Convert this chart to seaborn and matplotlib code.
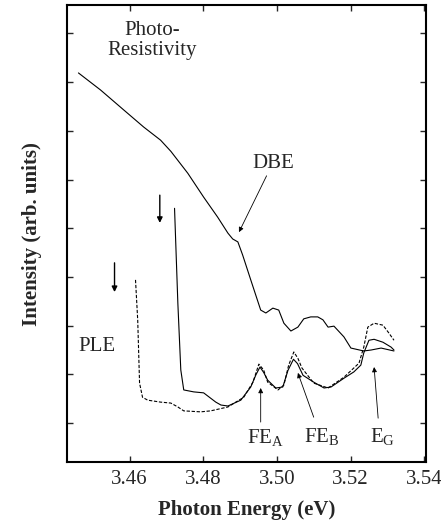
import numpy as np
import pandas as pd
import seaborn as sb
import matplotlib
matplotlib.use('Agg')
import matplotlib.pyplot as plt

# photo-resistivity trace (solid, top)
pr_x = [3.4461, 3.4521, 3.4584, 3.4638, 3.4684, 3.4712, 3.4758, 3.4801, 3.4839, 3.4867,
        3.4880, 3.4894, 3.4907, 3.4929, 3.4956, 3.4970, 3.4989, 3.5005, 3.5019, 3.5038,
        3.5057, 3.5073, 3.5092, 3.5111, 3.5125, 3.5139, 3.5155, 3.5182, 3.5201, 3.5236,
        3.5256, 3.5283, 3.5318]
pr_y = [7.19, 6.84, 6.43, 6.08, 5.81, 5.58, 5.13, 4.64, 4.23, 3.90,
        3.78, 3.72, 3.45, 2.94, 2.32, 2.26, 2.36, 2.32, 2.05, 1.89,
        1.97, 2.14, 2.18, 2.18, 2.12, 1.97, 1.99, 1.77, 1.54, 1.48,
        1.50, 1.54, 1.48]

# PLE, solid trace
ple1_x = [3.4722, 3.4731, 3.4739, 3.4747, 3.4774, 3.4801, 3.4834, 3.4848, 3.4867, 3.4902,
          3.4929, 3.4943, 3.4954, 3.4964, 3.4975, 3.4997, 3.5016, 3.5030, 3.5045, 3.5056,
          3.5071, 3.5100, 3.5128, 3.5147, 3.5182, 3.5209, 3.5228, 3.5236, 3.5250, 3.5264,
          3.5288, 3.5310, 3.5318]
ple1_y = [4.41, 2.46, 1.09, 0.68, 0.64, 0.62, 0.43, 0.37, 0.35, 0.47,
          0.74, 0.99, 1.15, 1.04, 0.88, 0.72, 0.74, 1.08, 1.31, 1.22,
          0.98, 0.84, 0.72, 0.74, 0.92, 1.05, 1.19, 1.44, 1.70, 1.72,
          1.66, 1.56, 1.50]

# PLE, dashed trace
ple2_x = [3.4616, 3.4622, 3.4627, 3.4635, 3.4649, 3.4684, 3.4712, 3.4731, 3.4747, 3.4793,
          3.4820, 3.4867, 3.4910, 3.4935, 3.4951, 3.4964, 3.4975, 3.5003, 3.5019, 3.5032,
          3.5046, 3.5057, 3.5068, 3.5100, 3.5139, 3.5182, 3.5223, 3.5236, 3.5247, 3.5264,
          3.5288, 3.5304, 3.5318]
ple2_y = [2.94, 2.11, 0.82, 0.53, 0.47, 0.43, 0.41, 0.33, 0.25, 0.23,
          0.25, 0.33, 0.53, 0.84, 1.21, 1.09, 0.84, 0.68, 0.78, 1.19,
          1.46, 1.33, 1.13, 0.82, 0.72, 0.94, 1.23, 1.56, 1.97, 2.05,
          2.01, 1.85, 1.70]

x_ticks = [3.46, 3.48, 3.50, 3.52, 3.54]
x_ticklabels = ['3.46', '3.48', '3.50', '3.52', '3.54']

sb.set_style('ticks')
plt.rcParams['font.family'] = ['Liberation Serif', 'DejaVu Serif']
plt.rcParams['mathtext.fontset'] = 'custom'
plt.rcParams['mathtext.rm'] = 'Liberation Serif'

fig = plt.figure(figsize=(4.41, 5.25), dpi=100)
ax = fig.add_axes([0.152, 0.12, 0.814, 0.870])

df_pr = pd.DataFrame({'x': pr_x, 'y': pr_y})
df_p1 = pd.DataFrame({'x': ple1_x, 'y': ple1_y})
df_p2 = pd.DataFrame({'x': ple2_x, 'y': ple2_y})

sb.lineplot(data=df_pr, x='x', y='y', sort=False, estimator=None, ax=ax,
            color='k', lw=0.8)
sb.lineplot(data=df_p1, x='x', y='y', sort=False, estimator=None, ax=ax,
            color='k', lw=0.8)
sb.lineplot(data=df_p2, x='x', y='y', sort=False, estimator=None, ax=ax,
            color='k', lw=0.8, linestyle=(0, (3, 1.5)))

ax.set_xlim(3.443, 3.5405)
ax.set_ylim(-0.8, 8.58)
ax.set_xticks(x_ticks)
ax.set_xticklabels(x_ticklabels)
ax.set_yticks(range(0, 9))
ax.set_yticklabels([])
ax.tick_params(direction='in', length=4, width=1, top=True, right=True,
               labelsize=15, pad=6)
for sp in ax.spines.values():
    sp.set_linewidth(1.5)
    sp.set_color('k')

ax.set_xlabel('Photon Energy (eV)', fontsize=15, fontweight='bold', labelpad=8)
ax.set_ylabel('Intensity (arb. units)', fontsize=15, fontweight='bold', labelpad=12)

# labels
ax.text(3.4660, 7.86, 'Photo-\nResistivity', fontsize=15, ha='center', va='center',
        linespacing=1.1)
ax.text(3.4510, 1.58, 'PLE', fontsize=15, ha='center', va='center')

arw = dict(arrowstyle='-|>', lw=0.6, color='k', mutation_scale=7, shrinkA=0, shrinkB=0)
ax.annotate('DBE', xy=(3.4897, 3.92), xytext=(3.4989, 5.34), fontsize=15,
            ha='center', va='center', arrowprops=arw)
ax.annotate('', xy=(3.4956, 0.72), xytext=(3.4956, 0.02), arrowprops=arw)
ax.text(3.4970, -0.31, r'FE$_\mathregular{A}$', fontsize=15, ha='center', va='center')
ax.annotate('', xy=(3.5057, 1.03), xytext=(3.5100, 0.12), arrowprops=arw)
ax.text(3.5122, -0.29, r'FE$_\mathregular{B}$', fontsize=15, ha='center', va='center')
ax.annotate('', xy=(3.5264, 1.15), xytext=(3.5275, 0.10), arrowprops=arw)
ax.text(3.5288, -0.29, r'E$_\mathregular{G}$', fontsize=15, ha='center', va='center')

# excitation arrows
arw2 = dict(arrowstyle='-|>', lw=1.0, color='k', mutation_scale=8, shrinkA=0, shrinkB=0)
ax.annotate('', xy=(3.4559, 2.69), xytext=(3.4559, 3.29), arrowprops=arw2)
ax.annotate('', xy=(3.4682, 4.11), xytext=(3.4682, 4.68), arrowprops=arw2)

plt.savefig('out.png', dpi=100)
